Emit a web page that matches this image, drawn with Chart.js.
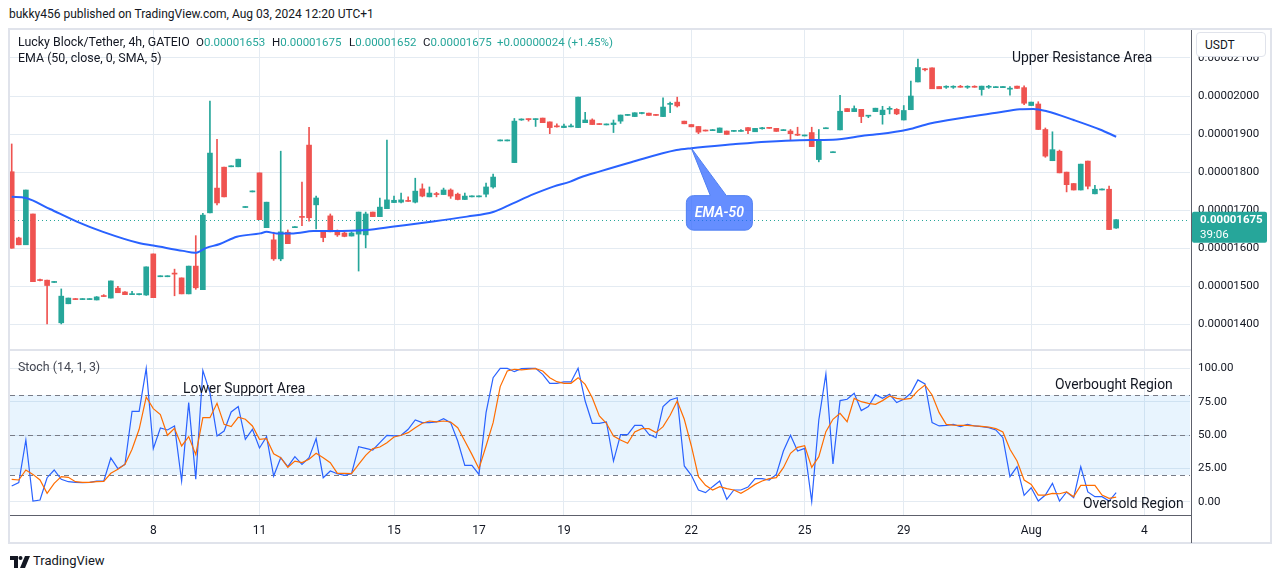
<!DOCTYPE html>
<html><head><meta charset="utf-8">
<script src="https://cdn.jsdelivr.net/npm/chart.js@4.4.1/dist/chart.umd.min.js"></script>
<style>
html,body{margin:0;padding:0;background:#fff;width:1281px;height:579px;overflow:hidden;}
#wrap{position:relative;width:1281px;height:579px;font-family:Roboto,"Liberation Sans",sans-serif;color:#131722;}
.a{position:absolute;white-space:nowrap;}
.t12{font-size:12px;line-height:16px;}
.lv{font-size:11.5px;line-height:16px;}
.lg{font-size:12.4px;line-height:16px;}
.an{font-size:13.9px;line-height:18px;}
.v{color:#26a69a;}
canvas{position:absolute;}
</style></head>
<body><div id="wrap">
<div class="a" style="left:8px;top:28px;width:1264px;height:516px;box-sizing:border-box;border:2px solid #e0e3eb;"></div>
<canvas id="main" width="1260" height="320" style="left:10px;top:30px;"></canvas>
<canvas id="stoch" width="1260" height="193" style="left:10px;top:350px;"></canvas>
<div class="a" style="left:10px;top:349px;width:1181px;height:2px;background:#e0e3eb;"></div>
<div class="a" style="left:10px;top:515px;width:1182px;height:1px;background:#5d606b;"></div>
<div class="a" style="left:1191px;top:30px;width:1px;height:513px;background:#5d606b;"></div>

<div class="a t12" style="left:9px;top:6px;">bukky456 published on TradingView.com, Aug 03, 2024 12:20 UTC+1</div>
<div class="a lg" style="left:18px;top:34px;">Lucky Block/Tether, 4h, GATEIO</div>
<div class="a lv" style="left:196px;top:34px;">O<span class="v">0.00001653</span></div>
<div class="a lv" style="left:272px;top:34px;">H<span class="v">0.00001675</span></div>
<div class="a lv" style="left:349px;top:34px;">L<span class="v">0.00001652</span></div>
<div class="a lv" style="left:423px;top:34px;">C<span class="v">0.00001675</span></div>
<div class="a lv v" style="left:497px;top:34px;">+0.00000024 (+1.45%)</div>
<div class="a lg" style="left:18px;top:50px;">EMA (50, close, 0, SMA, 5)</div>
<div class="a lg" style="left:18px;top:359px;color:#434651;">Stoch (14, 1, 3)</div>

<div class="a an" style="left:1012px;top:48px;">Upper Resistance Area</div>
<div class="a an" style="left:183px;top:379px;">Lower Support Area</div>
<div class="a an" style="left:1055px;top:375px;">Overbought Region</div>
<div class="a an" style="left:1083px;top:494px;">Oversold Region</div>

<div class="a t12" style="left:1196px;top:32px;width:70px;height:25px;box-sizing:border-box;border:1px solid #e0e3eb;border-radius:4px;background:#fff;padding:4px 0 0 8px;">USDT</div>

<svg class="a" style="left:10px;top:556px;" width="20" height="12" viewBox="0 0 20 12">
<path d="M0 0h8v12h-4v-8h-4z" fill="#131722"/><circle cx="10.5" cy="2" r="2" fill="#131722"/><path d="M15 0h5l-5 12h-5z" fill="#131722"/></svg>
<div class="a" style="left:33px;top:553px;font-size:13px;line-height:16px;">TradingView</div>
</div>
<script>
// ---- data (prices in units of 1e-8 USDT) ----
const UNIT = 1e-8;
const open  = [1801,1627,1609,1690,1517,1516,1510,1404,1454,1467,1465,1465,1464,1475,1469,1495,1485,1478,1478,1477,1585,1525,1525,1533,1522,1480,1553,1491,1693,1758,1813,1814,1814,1707,1748,1798,1654,1622,1572,1642,1654,1682,1871,1714,1645,1685,1643,1640,1632,1637,1635,1695,1683,1704,1720,1721,1724,1721,1756,1735,1742,1741,1753,1742,1728,1735,1735,1742,1761,1882,1882,1825,1937,1939,1938,1942,1932,1920,1917,1919,1917,1930,1937,1926,1924,1925,1934,1949,1946,1954,1955,1950,1946,1978,1984,1934,1925,1920,1909,1909,1904,1908,1907,1907,1917,1906,1914,1916,1915,1909,1908,1898,1895,1904,1833,1914,1851,1911,1967,1959,1965,1947,1959,1951,1965,1965,1937,1964,2037,2070,2074,2025,2023,2023,2024,2023,2024,2017,2023,2022,2022,2018,2026,2022,1975,1979,1912,1830,1855,1800,1770,1753,1829,1743,1753,1755,1653];
const high  = [1874,1629,1753,1690,1519,1516,1511,1493,1469,1468,1466,1466,1473,1478,1514,1500,1486,1487,1480,1551,1585,1526,1526,1545,1522,1553,1633,1692,1987,1886,1813,1815,1834,1708,1749,1798,1721,1642,1855,1648,1655,1774,1918,1737,1645,1690,1648,1643,1643,1695,1695,1695,1732,1884,1737,1745,1735,1784,1769,1761,1747,1758,1756,1745,1745,1736,1736,1771,1795,1883,1883,1941,1940,1940,1940,1942,1932,1927,1926,1926,1997,1957,1940,1926,1925,1937,1950,1950,1956,1957,1955,1950,1995,1984,1997,1934,1925,1920,1909,1912,1916,1908,1908,1912,1917,1915,1918,1916,1915,1911,1912,1918,1896,1918,1912,1915,1852,2002,1967,1974,1965,1948,1968,1973,1972,1967,1975,2039,2097,2073,2074,2025,2027,2027,2028,2027,2027,2026,2028,2023,2025,2025,2026,2027,1984,1985,1916,1906,1858,1800,1770,1821,1829,1765,1756,1763,1675];
const low   = [1600,1609,1609,1512,1514,1401,1510,1401,1454,1465,1465,1465,1464,1473,1469,1483,1478,1478,1477,1476,1470,1525,1525,1475,1480,1480,1492,1491,1693,1714,1735,1814,1814,1707,1748,1675,1654,1568,1567,1612,1654,1659,1671,1651,1617,1643,1631,1630,1632,1540,1601,1683,1683,1704,1720,1719,1723,1719,1735,1735,1735,1741,1731,1727,1728,1735,1735,1735,1758,1882,1882,1825,1936,1934,1920,1930,1901,1918,1917,1919,1917,1930,1925,1925,1924,1904,1928,1949,1946,1953,1949,1949,1946,1956,1971,1927,1919,1901,1908,1909,1904,1899,1907,1907,1901,1906,1913,1915,1907,1909,1885,1896,1895,1867,1827,1914,1851,1911,1959,1959,1930,1943,1959,1926,1953,1951,1937,1964,2037,2066,2019,2019,2020,2020,2023,2020,2023,2002,2020,2022,2022,2002,2020,1977,1975,1912,1839,1830,1798,1748,1753,1753,1756,1743,1753,1649,1652];
const close = [1600,1609,1753,1512,1515,1502,1511,1474,1469,1465,1466,1466,1472,1473,1514,1483,1478,1479,1480,1551,1470,1526,1526,1532,1480,1553,1496,1687,1850,1719,1735,1815,1834,1708,1749,1675,1721,1572,1643,1612,1655,1681,1680,1732,1628,1643,1635,1631,1640,1695,1690,1683,1708,1727,1726,1727,1723,1750,1737,1745,1741,1753,1737,1728,1737,1736,1736,1761,1787,1883,1883,1934,1939,1938,1939,1930,1917,1919,1921,1920,1997,1937,1925,1925,1925,1929,1950,1950,1956,1955,1949,1949,1971,1979,1974,1927,1919,1905,1908,1910,1916,1899,1908,1908,1909,1915,1915,1915,1907,1910,1901,1897,1896,1867,1884,1915,1852,1960,1959,1967,1946,1948,1968,1963,1966,1953,1962,2000,2075,2069,2019,2019,2024,2024,2023,2024,2023,2026,2024,2023,2025,2019,2020,1981,1984,1912,1842,1859,1798,1767,1753,1821,1763,1755,1754,1649,1675];
// EMA-50 line, read at these bar positions
const emaX = [0,2,5.4,9.2,12.9,18.1,20,24.2,25.9,27.5,29.4,31.8,35.1,36,37.4,39.8,42.6,45.4,50.1,54,59.5,64.3,68,70.8,73.7,76.5,78.9,80.3,83.1,87.5,93.9,96,101.9,106.6,111.3,116,120.8,122.6,126.6,129.7,134.4,139.1,142.4,144.3,146.2,150,153.7,156];
const emaY = [1735,1732,1703,1670,1643,1613,1607,1593,1588,1601,1611,1630,1639,1643,1639,1639,1645,1645,1648,1657,1670,1683,1695,1718,1742,1762,1775,1786,1802,1826,1858,1863,1873,1880,1884,1885,1897,1900,1912,1928,1943,1956,1965,1966,1960,1937,1912,1893];
const emaLabelAt = 96;
// Stochastic %K and %D
const stochK = [11.8,14.3,46.3,0.5,1.3,18,23.8,16.8,15,14.5,14.3,14.5,15.5,15.5,32.8,24.8,28,67.8,67.8,100,39.8,55.3,53.8,56.8,15.5,74.3,16.8,98.5,81.8,49.3,53,67.3,71.3,46.8,54.3,40.3,48.8,19.3,33,26.3,33.8,28,33,47.3,18,23,21,19.8,21,41.3,40,38.8,44.3,49.8,49.3,
49.8,54.3,61.3,59.3,59.3,59.8,62.3,59.3,45.5,27.3,27.3,20.5,66.8,93,100,100,97.5,99.8,100,100,95.5,88.8,88.8,89.8,89.8,100,75.5,58.8,58.8,59.8,30.5,50.3,50.3,57.3,57.3,50.5,48,71.3,76.3,78,26.8,19.8,8.8,6.8,11.3,15.5,1.8,8.8,8.8,11,17.3,17.3,16.3,20.5,38,49.8,38,
40,0.2,61.3,95.8,28.3,75.8,76.8,81.3,68.3,71.3,80.3,77.5,80.5,74.3,76.8,81.3,91.3,88.3,59.3,56.8,57.3,58,56.3,58,56.8,56.3,55.5,53.8,48,18.8,26.3,4.8,10.5,0.5,5,13.8,0.5,7.3,3,26.3,7.3,3.8,3.8,0.5,6.8];
const stochD = [16.8,16.3,23.8,20.5,16.3,6.3,13.8,18.8,18.3,15,14.5,14.5,15,15.3,21.3,24.3,28,39.3,54.3,78.5,69.8,65.3,49.8,55,41.8,48.8,35.3,63,63,73.8,58,56.3,63.3,61.8,56.8,46.8,47.3,36,33,25.8,30.5,29.3,31.8,36.3,33,29.3,21.3,21.3,21,28,34.8,39.8,41,44.3,48.5,
49.8,51.8,55.5,58.8,60.5,59.8,60.5,59.8,55.5,45.5,35.5,24.8,41.8,59.3,86.3,98,99.3,98.8,99.3,99.8,98,93,90,88.8,88.8,93,88,78,64.3,58.8,49.3,46.3,43.8,52.3,54.8,54.8,51.8,56.3,64.8,75.5,61.8,41.8,18.8,12.3,8.8,11.3,9.8,8.8,6.3,9.3,13,15.5,17.3,18,25.5,36.3,40.8,
42,25.8,33.8,52.5,61.8,66.3,60,77.5,75,73.8,73,75.8,79.3,77.5,76.8,77.5,83.3,87.5,80,66.8,58,57.5,57.3,57.3,56.8,56.5,56,54.8,52.3,39.3,30.5,16.3,13,5,5,6.3,6,7.3,3.8,12.3,12.3,12.3,5,2.5,3.5];
// time axis (bar index of each day label)
const dayTickIdx = [20,35,54,66,78,96,112,126,144,160];
const dayTickLabels = ["8","11","15","17","19","22","25","29","Aug","4"];
const priceTicks = [1400,1500,1600,1700,1800,1900,2000,2100];
const stochTicks = [0,25,50,75,100];
const stochLevels = [80,50,20];
const lastTimer = "39:06";

// ---- styles ----
const UP='#26a69a', DOWN='#ef5350', GRID='#e4ebf2', FONT='Roboto';
const X_MIN=-0.24, X_MAX=166.43;
const idx = open.map((_,i)=>i);
const colors = idx.map(i=> close[i]>=open[i]?UP:DOWN);
const lastClose = close[close.length-1];

function fixV(w){return s=>{s.width=w; s.paddingTop=0; s.paddingBottom=0;};}
function fixH(h){return s=>{s.height=h; s.paddingLeft=0; s.paddingRight=0;};}

const mainPlugin = {
  id:'mainDeco',
  beforeDatasetsDraw(c){
    const {ctx, chartArea:a, scales:{y}} = c;
    const py = Math.round(y.getPixelForValue(lastClose))+0.5;
    ctx.save(); ctx.strokeStyle=UP; ctx.lineWidth=1; ctx.setLineDash([1,3]);
    ctx.beginPath(); ctx.moveTo(a.left,py); ctx.lineTo(a.right,py); ctx.stroke(); ctx.restore();
  },
  afterDraw(c){
    const {ctx, chartArea:a, scales:{x,y}} = c;
    // last price label on axis
    const py = y.getPixelForValue(lastClose);
    ctx.save();
    ctx.fillStyle=UP;
    ctx.beginPath(); ctx.roundRect(a.right+2, py-8, 75, 31, 2); ctx.fill();
    ctx.fillStyle='#fff'; ctx.textBaseline='middle'; ctx.textAlign='left';
    ctx.font='bold 11.5px '+FONT; ctx.fillText((lastClose*UNIT).toFixed(8), a.right+10, py);
    ctx.font='11.5px '+FONT; ctx.fillText(lastTimer, a.right+10, py+15);
    // EMA-50 callout
    const k = emaX.indexOf(emaLabelAt);
    const tx = x.getPixelForValue(emaX[k]), ty = y.getPixelForValue(emaY[k]);
    const bl=tx-5, br=tx+61, bt=ty+47.5, bb=ty+82, r=7;
    ctx.fillStyle='rgba(41,98,255,0.72)'; ctx.strokeStyle='#4f7ff2'; ctx.lineWidth=1;
    ctx.beginPath();
    ctx.moveTo(bl+r,bt); ctx.lineTo(tx+19,bt); ctx.lineTo(tx,ty); ctx.lineTo(tx+35,bt);
    ctx.lineTo(br-r,bt); ctx.arcTo(br,bt,br,bt+r,r); ctx.lineTo(br,bb-r); ctx.arcTo(br,bb,br-r,bb,r);
    ctx.lineTo(bl+r,bb); ctx.arcTo(bl,bb,bl,bb-r,r); ctx.lineTo(bl,bt+r); ctx.arcTo(bl,bt,bl+r,bt,r);
    ctx.closePath(); ctx.fill(); ctx.stroke();
    ctx.fillStyle='#fff'; ctx.font='italic 600 14px '+FONT; ctx.textAlign='center';
    ctx.fillText('EMA-50', (bl+br)/2, (bt+bb)/2+1);
    ctx.restore();
  }
};

const stochPlugin = {
  id:'stochDeco',
  beforeDatasetsDraw(c){
    const {ctx, chartArea:a, scales:{y}} = c;
    ctx.save();
    const y80=y.getPixelForValue(stochLevels[0]), y20=y.getPixelForValue(stochLevels[2]);
    ctx.fillStyle='rgba(33,150,243,0.1)';
    ctx.fillRect(a.left, y80, a.right-a.left, y20-y80);
    ctx.strokeStyle='#787b86'; ctx.lineWidth=1; ctx.setLineDash([5,4]);
    stochLevels.forEach(v=>{const p=Math.round(y.getPixelForValue(v))+0.5; ctx.beginPath(); ctx.moveTo(a.left,p); ctx.lineTo(a.right,p); ctx.stroke();});
    ctx.restore();
  }
};

const xCommon = {
  type:'linear', min:X_MIN, max:X_MAX, offset:false,
  afterBuildTicks: s=>{ s.ticks = dayTickIdx.map(v=>({value:v})); },
  grid:{color:GRID, drawTicks:false, offset:false}, border:{display:false}
};

new Chart(document.getElementById('main'), {
  type:'bar',
  data:{datasets:[
    {type:'line', data: emaX.map((v,k)=>({x:v,y:emaY[k]})), borderColor:'#2962ff', borderWidth:2, pointRadius:0, cubicInterpolationMode:'monotone', order:0},
    {type:'bar', data: idx.map(i=>({x:i, y:[Math.min(open[i],close[i]), Math.max(open[i],close[i])]})), backgroundColor:colors, barThickness:5, grouped:false, minBarLength:1, order:1},
    {type:'bar', data: idx.map(i=>({x:i, y:[low[i], high[i]]})), backgroundColor:colors, barThickness:1, grouped:false, minBarLength:1, order:2}
  ]},
  options:{
    animation:false, responsive:false, devicePixelRatio:1,
    layout:{padding:0},
    plugins:{legend:{display:false}, tooltip:{enabled:false}},
    scales:{
      x:Object.assign({}, xCommon, {ticks:{display:false}, afterFit:fixH(0)}),
      y:{position:'right', min:1332.5, max:2173.5,
         afterBuildTicks: s=>{ s.ticks = priceTicks.map(v=>({value:v})); },
         ticks:{callback:v=>(v*UNIT).toFixed(8), padding:8, color:'#131722', font:{family:FONT, size:11.5}},
         grid:{color:GRID, drawTicks:false}, border:{display:false}, afterFit:fixV(80)}
    }
  },
  plugins:[mainPlugin]
});

new Chart(document.getElementById('stoch'), {
  type:'line',
  data:{datasets:[
    {data: idx.map(i=>({x:i,y:stochD[i]})), borderColor:'#ff6d00', borderWidth:1.2, pointRadius:0, tension:0},
    {data: idx.map(i=>({x:i,y:stochK[i]})), borderColor:'#2962ff', borderWidth:1.2, pointRadius:0, tension:0}
  ]},
  options:{
    animation:false, responsive:false, devicePixelRatio:1,
    layout:{padding:{top:1}},
    plugins:{legend:{display:false}, tooltip:{enabled:false}},
    scales:{
      x:Object.assign({}, xCommon, {
         ticks:{callback:v=>dayTickLabels[dayTickIdx.indexOf(v)], padding:8, maxRotation:0, autoSkip:false, color:'#131722', font:{family:FONT, size:12}},
         afterFit:fixH(27)}),
      y:{position:'right', min:-10.7, max:113,
         afterBuildTicks: s=>{ s.ticks = stochTicks.map(v=>({value:v})); },
         ticks:{callback:v=>v.toFixed(2), padding:8, color:'#131722', font:{family:FONT, size:11.5}},
         grid:{color:GRID, drawTicks:false}, border:{display:false}, afterFit:fixV(80)}
    }
  },
  plugins:[stochPlugin]
});
</script>
</body></html>
